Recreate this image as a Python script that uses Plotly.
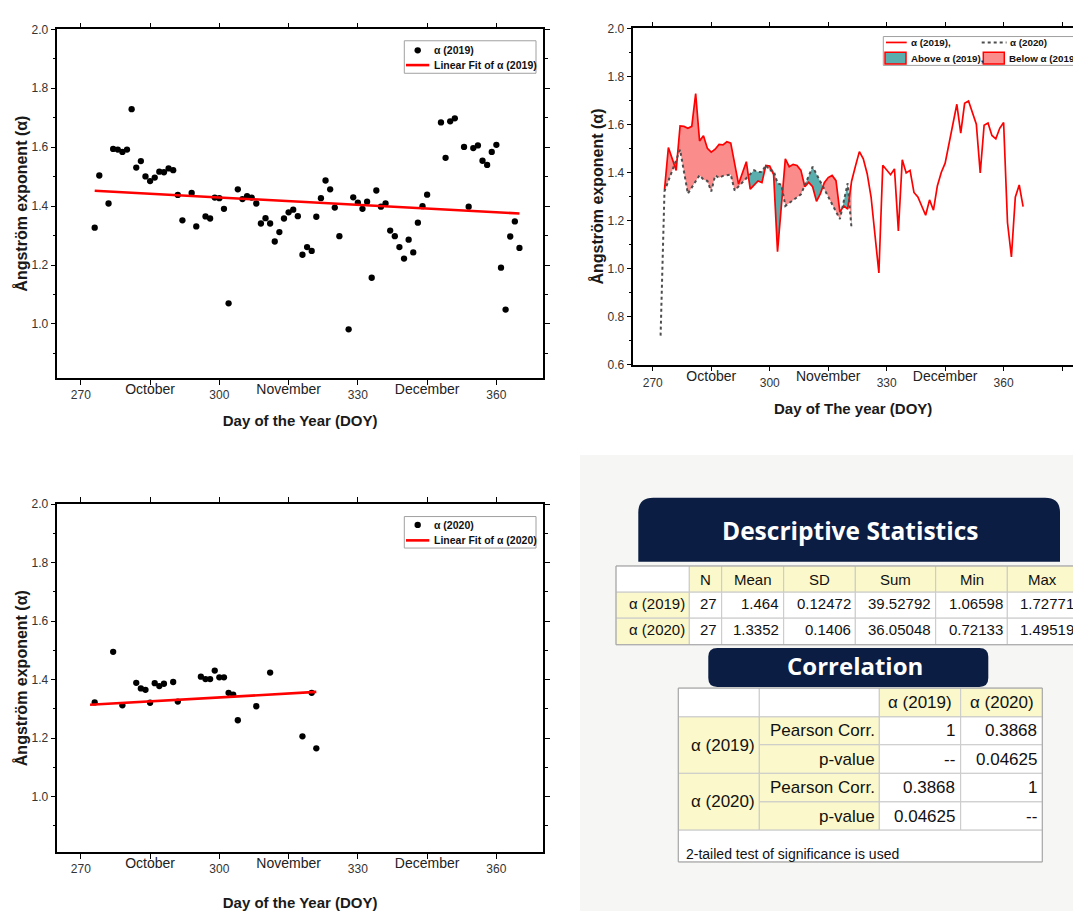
import numpy as np
import plotly.graph_objects as go

# ---------------- data ----------------
doy_2019 = [273, 274, 276, 277, 278, 279, 280, 281, 282, 283, 284, 285, 286, 287, 288, 289, 290, 291, 292, 294,
            295, 297, 298, 299, 300, 301, 302, 304, 305, 306, 307, 308, 309, 310, 311, 312, 313, 314, 315, 316,
            317, 318, 319, 320, 321, 322, 323, 324, 325, 326, 328, 329, 330, 331, 332, 333, 334, 335, 336, 337,
            338, 339, 340, 341, 342, 343, 344, 345, 348, 349, 350, 351, 353, 354, 355, 356, 357, 358, 359, 360,
            361, 362, 363, 364, 365]
alpha_2019 = [1.327, 1.504, 1.409, 1.594, 1.592, 1.584, 1.592, 1.729, 1.531, 1.553, 1.501, 1.485, 1.497, 1.517,
              1.515, 1.528, 1.522, 1.438, 1.352, 1.445, 1.331, 1.365, 1.358, 1.429, 1.427, 1.391, 1.070, 1.457,
              1.424, 1.434, 1.429, 1.409, 1.341, 1.359, 1.341, 1.280, 1.312, 1.358, 1.379, 1.388, 1.366, 1.235,
              1.261, 1.248, 1.364, 1.427, 1.487, 1.457, 1.395, 1.298, 0.982, 1.430, 1.412, 1.391, 1.415, 1.157,
              1.453, 1.398, 1.409, 1.317, 1.298, 1.261, 1.222, 1.286, 1.243, 1.344, 1.400, 1.439, 1.684, 1.564,
              1.688, 1.698, 1.601, 1.398, 1.597, 1.606, 1.554, 1.540, 1.584, 1.608, 1.191, 1.049, 1.297, 1.348,
              1.258]
doy_2020 = [272, 273, 277, 279, 282, 283, 284, 285, 286, 287, 288, 290, 291, 296, 297, 298, 299, 300, 301, 302,
            303, 304, 308, 311, 318, 320, 321]
alpha_2020 = [0.721, 1.322, 1.495, 1.312, 1.389, 1.370, 1.365, 1.321, 1.388, 1.378, 1.386, 1.392, 1.325, 1.410,
              1.402, 1.402, 1.431, 1.408, 1.408, 1.355, 1.349, 1.261, 1.309, 1.424, 1.206, 1.355, 1.165]
fit_2019_doy = [273, 365]
fit_2019_alpha = [1.452, 1.375]
fit_2020_doy = [272, 321]
fit_2020_alpha = [1.314, 1.358]

doy_ticks = [270, 285, 300, 315, 330, 345, 360, 375]
doy_tick_labels = ["270", "", "300", "", "330", "", "360", ""]
month_ticks = [285, 315, 345]
month_labels = ["October", "November", "December"]

stats_columns = ["", "N", "Mean", "SD", "Sum", "Min", "Max"]
stats_row_2019 = ["α (2019)", "27", "1.464", "0.12472", "39.52792", "1.06598", "1.72771"]
stats_row_2020 = ["α (2020)", "27", "1.3352", "0.1406", "36.05048", "0.72133", "1.49519"]
corr_columns = ["α (2019)", "α (2020)"]
corr_vars = ["α (2019)", "α (2020)"]
corr_measures = ["Pearson Corr.", "p-value"]
corr_values = [["1", "0.3868"], ["--", "0.04625"], ["0.3868", "1"], ["0.04625", "--"]]
corr_note = "2-tailed test of significance is used"

# ---------------- layout helpers ----------------
W, H = 1073, 911
FONT = "Liberation Sans, Arial, sans-serif"
HEAD_FONT = "Open Sans, Noto Sans, sans-serif"


def px(x):
    return x / W


def py(y):
    return 1 - y / H


RED = "#FF0000"
PINK = "#FA8C8C"
TEAL = "#5AAEAD"
DOT = "#4D4D4D"
NAVY = "#0B1D42"
YELLOW = "#FBF9CB"
GRID = "#C9C9C9"

fig = go.Figure()

# ---- top-left: 2019 scatter + fit
fig.add_trace(go.Scatter(x=doy_2019, y=alpha_2019, mode="markers", name="α (2019)",
                         marker=dict(color="black", size=6.3), xaxis="x", yaxis="y", showlegend=False))
fig.add_trace(go.Scatter(x=fit_2019_doy, y=fit_2019_alpha, mode="lines", name="Linear Fit of α (2019)",
                         line=dict(color=RED, width=2.6), xaxis="x", yaxis="y", showlegend=False))

# ---- top-right: fills between the two series
x19 = np.asarray(doy_2019, float)
a19 = np.asarray(alpha_2019, float)
x20 = np.asarray(doy_2020, float)
a20 = np.asarray(alpha_2020, float)
lo = max(x19[0], x20[0])
hi = min(x19[-1], x20[-1])
grid = np.unique(np.concatenate([x19, x20]))
grid = grid[(grid >= lo) & (grid <= hi)]
ya = np.interp(grid, x19, a19)
yb = np.interp(grid, x20, a20)
xs, ua, ub = [grid[0]], [ya[0]], [yb[0]]
for i in range(len(grid) - 1):
    d0 = yb[i] - ya[i]
    d1 = yb[i + 1] - ya[i + 1]
    if d0 * d1 < 0:
        t = d0 / (d0 - d1)
        xc = grid[i] + t * (grid[i + 1] - grid[i])
        yc = ya[i] + t * (ya[i + 1] - ya[i])
        xs.append(xc); ua.append(yc); ub.append(yc)
    xs.append(grid[i + 1]); ua.append(ya[i + 1]); ub.append(yb[i + 1])
xs, ua, ub = np.array(xs), np.array(ua), np.array(ub)
sign = np.sign((ub[:-1] + ub[1:]) - (ua[:-1] + ua[1:]))
above_x, above_y, below_x, below_y = [], [], [], []
k = 0
n = len(sign)
while k < n:
    s = sign[k]
    j = k
    while j + 1 < n and sign[j + 1] == s:
        j += 1
    sl = slice(k, j + 2)
    polx = list(xs[sl]) + list(xs[sl][::-1])
    poly = list(ua[sl]) + list(ub[sl][::-1])
    if s > 0:
        above_x += polx + [None]; above_y += poly + [None]
    elif s < 0:
        below_x += polx + [None]; below_y += poly + [None]
    k = j + 1

fig.add_trace(go.Scatter(x=below_x, y=below_y, mode="lines", fill="toself", fillcolor=PINK,
                         line=dict(width=0), name="Below α (2019)", xaxis="x2", yaxis="y2", showlegend=False))
fig.add_trace(go.Scatter(x=above_x, y=above_y, mode="lines", fill="toself", fillcolor=TEAL,
                         line=dict(width=0), name="Above α (2019)", xaxis="x2", yaxis="y2", showlegend=False))
fig.add_trace(go.Scatter(x=doy_2019, y=alpha_2019, mode="lines", name="α (2019)",
                         line=dict(color=RED, width=1.7), xaxis="x2", yaxis="y2", showlegend=False))
fig.add_trace(go.Scatter(x=doy_2020, y=alpha_2020, mode="lines", name="α (2020)",
                         line=dict(color=DOT, width=2, dash="dot"), xaxis="x2", yaxis="y2", showlegend=False))

# ---- bottom-left: 2020 scatter + fit
fig.add_trace(go.Scatter(x=doy_2020, y=alpha_2020, mode="markers", name="α (2020)",
                         marker=dict(color="black", size=6.3), xaxis="x3", yaxis="y3", showlegend=False))
fig.add_trace(go.Scatter(x=fit_2020_doy, y=fit_2020_alpha, mode="lines", name="Linear Fit of α (2020)",
                         line=dict(color=RED, width=2.6), xaxis="x3", yaxis="y3", showlegend=False))

# empty carriers so that the month-label axes are drawn
for xa, yax in (("x4", "y"), ("x5", "y2"), ("x6", "y3")):
    fig.add_trace(go.Scatter(x=[], y=[], mode="markers", xaxis=xa, yaxis=yax, showlegend=False,
                             hoverinfo="skip"))

# ---------------- axes ----------------
TL_X = [px(57.3), px(543)]
TL_Y = [py(376.7), py(22.7)]
TR_X = [px(633.3), 1.0]
TR_Y = [py(363.3), py(21.7)]
BL_X = [px(57.3), px(543)]
BL_Y = [py(858.3), py(505)]

TITLE_FONT = dict(family=FONT, size=15, color="#1a1a1a", weight="bold")
TICK_FONT = dict(family=FONT, size=12, color="#333333")
MONTH_FONT = dict(family=FONT, size=14, color="#222222")


def xcfg(domain, anchor, rng, title, mirror="ticks", stand=0, tstand=14):
    return dict(domain=domain, anchor=anchor, range=rng, tickmode="array", tickvals=doy_ticks,
                ticktext=doy_tick_labels, ticks="outside", ticklen=5, tickwidth=1.2, tickcolor="black",
                showline=True, linecolor="black", linewidth=1.5, mirror=mirror, showgrid=False,
                zeroline=False, tickfont=TICK_FONT, ticklabelstandoff=stand,
                title=dict(text=title, font=TITLE_FONT, standoff=tstand))


def mcfg(over, anchor, rng, stand=1):
    return dict(overlaying=over, anchor=anchor, range=rng, side="bottom", tickmode="array",
                tickvals=month_ticks, ticktext=month_labels, ticks="", showline=False, showgrid=False,
                zeroline=False, tickfont=MONTH_FONT, ticklabelstandoff=stand)


def ycfg(domain, anchor, rng, mirror="ticks"):
    return dict(domain=domain, anchor=anchor, range=rng, tickmode="linear", tick0=0, dtick=0.2,
                tickformat=".1f", ticks="outside", ticklen=5, tickwidth=1.2, tickcolor="black",
                minor=dict(ticks="outside", ticklen=3, dtick=0.1, tick0=0, tickcolor="black", tickwidth=1),
                showline=True, linecolor="black", linewidth=1.5, mirror=mirror, showgrid=False,
                zeroline=False, tickfont=TICK_FONT,
                title=dict(text="Ångström exponent (α)", font=dict(family=FONT, size=16, color="#1a1a1a",
                                                                   weight="bold"), standoff=0))


XR_L = [264.9, 370.1]
XR_R = [265.0, 377.8]
fig.update_layout(
    xaxis=xcfg(TL_X, "y", XR_L, "Day of the Year (DOY)"),
    yaxis=ycfg(TL_Y, "x", [0.817, 2.0]),
    xaxis2=xcfg(TR_X, "y2", XR_R, "Day of The year (DOY)", stand=1, tstand=15),
    yaxis2=ycfg(TR_Y, "x2", [0.6, 2.0], mirror=False),
    xaxis3=xcfg(BL_X, "y3", XR_L, "Day of the Year (DOY)", tstand=22),
    yaxis3=ycfg(BL_Y, "x3", [0.81, 2.0]),
    xaxis4=mcfg("x", "y", XR_L),
    xaxis5=mcfg("x2", "y2", XR_R),
    xaxis6=mcfg("x3", "y3", XR_L),
)

# ---------------- manual legends, panel, tables ----------------
shapes = []
annotations = []


def rect(x0, y0, x1, y1, fill, line_color=None, line_width=0):
    shapes.append(dict(type="rect", xref="paper", yref="paper", x0=px(x0), x1=px(x1), y0=py(y1), y1=py(y0),
                       fillcolor=fill, line=dict(color=line_color or "rgba(0,0,0,0)", width=line_width),
                       layer="above"))


def seg(x0, y0, x1, y1, color, width, dash="solid"):
    shapes.append(dict(type="line", xref="paper", yref="paper", x0=px(x0), x1=px(x1), y0=py(y0), y1=py(y1),
                       line=dict(color=color, width=width, dash=dash), layer="above"))


def dot(x, y, r):
    shapes.append(dict(type="circle", xref="paper", yref="paper", x0=px(x - r), x1=px(x + r), y0=py(y + r),
                       y1=py(y - r), fillcolor="black", line=dict(width=0), layer="above"))


def label(x, y, s, size, anchor="left", bold=False, color="#111111", family=FONT):
    annotations.append(dict(xref="paper", yref="paper", x=px(x), y=py(y), text=s, showarrow=False,
                            xanchor=anchor, yanchor="middle",
                            font=dict(family=family, size=size, color=color,
                                      weight="bold" if bold else "normal")))


def rounded(x0, y0, x1, y1, r, fill, top=True, bottom=True):
    rt = r if top else 0
    rb = r if bottom else 0
    p = (f"M {px(x0 + rt)},{py(y0)} L {px(x1 - rt)},{py(y0)} Q {px(x1)},{py(y0)} {px(x1)},{py(y0 + rt)} "
         f"L {px(x1)},{py(y1 - rb)} Q {px(x1)},{py(y1)} {px(x1 - rb)},{py(y1)} "
         f"L {px(x0 + rb)},{py(y1)} Q {px(x0)},{py(y1)} {px(x0)},{py(y1 - rb)} "
         f"L {px(x0)},{py(y0 + rt)} Q {px(x0)},{py(y0)} {px(x0 + rt)},{py(y0)} Z")
    shapes.append(dict(type="path", xref="paper", yref="paper", path=p, fillcolor=fill,
                       line=dict(width=0), layer="above"))


LEG = 10.5
# top-left legend
rect(404.3, 34.3, 536, 67.3, "white", "#A0A0A0", 1)
dot(417.7, 44, 3.2)
label(431.5, 44, "α (2019)", LEG, bold=True)
seg(406, 59, 429.3, 59, RED, 2.6)
label(431.5, 59, "Linear Fit of α (2019)", LEG, bold=True)
# bottom-left legend
rect(404.3, 517.5, 536, 549.5, "white", "#A0A0A0", 1)
dot(417.7, 526, 3.2)
label(431.5, 526, "α (2020)", LEG, bold=True)
seg(406, 541.7, 429.3, 541.7, RED, 2.6)
label(431.5, 541.7, "Linear Fit of α (2020)", LEG, bold=True)
# top-right legend (cropped at the right edge, as in the reference)
rect(883.3, 30, 1085, 59.3, "white", "#A0A0A0", 1)
seg(886, 36, 906.7, 36, RED, 1.7)
label(909, 36, "α (2019),", 9.8, bold=True)
seg(981.7, 36, 1006.5, 36, DOT, 2, "dot")
label(1007.5, 36, "α (2020)", 9.8, bold=True)
rect(885, 46, 906, 58, TEAL, RED, 1.5)
label(909, 52.3, "Above α (2019),", 9.8, bold=True)
rect(983.3, 46, 1004.3, 58, PINK, RED, 1.5)
label(1007.3, 52.3, "Below α (2019)", 9.8, bold=True)

# bottom-right panel
rect(580, 455, 1090, 920, "#F6F6F5")

# descriptive statistics
rounded(638.3, 498.3, 1060, 563.3, 15, NAVY, top=True, bottom=False)
label(849.5, 532, "Descriptive Statistics", 24.5, anchor="center", bold=True, color="white", family=HEAD_FONT)
dx = [616, 689.3, 721.7, 783.7, 855.3, 935.7, 1007.3, 1078]
dy = [567.7, 594.3, 620.7, 647.7]
rows = [stats_columns, stats_row_2019, stats_row_2020]
text_y = [581, 606, 632]
for r in range(3):
    for c in range(7):
        if r == 0:
            fill = "white" if c == 0 else YELLOW
        else:
            fill = YELLOW if c == 0 else "white"
        rect(dx[c], dy[r], dx[c + 1], dy[r + 1], fill, GRID, 1)
        s = rows[r][c]
        if not s:
            continue
        if r == 0:
            label((dx[c] + dx[c + 1]) / 2, text_y[r], s, 15, anchor="center")
        else:
            label(dx[c + 1] - 2.5, text_y[r], s, 15, anchor="right")
rect(dx[0], dy[0], dx[-1], dy[-1], "rgba(0,0,0,0)", "#A5A5A5", 1)

# correlation
rounded(708.3, 651, 988.3, 690.5, 9, NAVY)
label(855, 668.5, "Correlation", 24, anchor="center", bold=True, color="white", family=HEAD_FONT)
cx = [678.3, 759.3, 879.3, 960.7, 1042.3]
cy = [691.7, 721, 749.3, 778.3, 807.3, 836, 868.3]
rect(cx[0], cy[0], cx[1], cy[1], "white", GRID, 1)
rect(cx[1], cy[0], cx[2], cy[1], "white", GRID, 1)
for c in range(2):
    rect(cx[2 + c], cy[0], cx[3 + c], cy[1], YELLOW, GRID, 1)
    label((cx[2 + c] + cx[3 + c]) / 2, (cy[0] + cy[1]) / 2, corr_columns[c], 17, anchor="center")
for g in range(2):
    r0 = 1 + 2 * g
    rect(cx[0], cy[r0], cx[1], cy[r0 + 2], YELLOW, GRID, 1)
    label(cx[1] - 2, (cy[r0] + cy[r0 + 2]) / 2, corr_vars[g], 17, anchor="right")
    for m in range(2):
        r = r0 + m
        rect(cx[1], cy[r], cx[2], cy[r + 1], YELLOW, GRID, 1)
        label(cx[2] - 2.5, (cy[r] + cy[r + 1]) / 2, corr_measures[m], 17, anchor="right")
        for c in range(2):
            rect(cx[2 + c], cy[r], cx[3 + c], cy[r + 1], "white", GRID, 1)
            label(cx[3 + c] - 3.5, (cy[r] + cy[r + 1]) / 2, corr_values[r - 1][c], 17, anchor="right")
rect(cx[0], cy[5], cx[-1], cy[6], "white", GRID, 1)
label(684.3, 860.5, corr_note, 14, anchor="left")
rect(cx[0], cy[0], cx[-1], cy[-1], "rgba(0,0,0,0)", "#A5A5A5", 1)

fig.update_layout(
    width=W, height=H, margin=dict(l=0, r=0, t=0, b=0),
    paper_bgcolor="white", plot_bgcolor="white",
    showlegend=False, font=dict(family=FONT),
    shapes=shapes, annotations=annotations,
)

fig.write_html("out.html")
